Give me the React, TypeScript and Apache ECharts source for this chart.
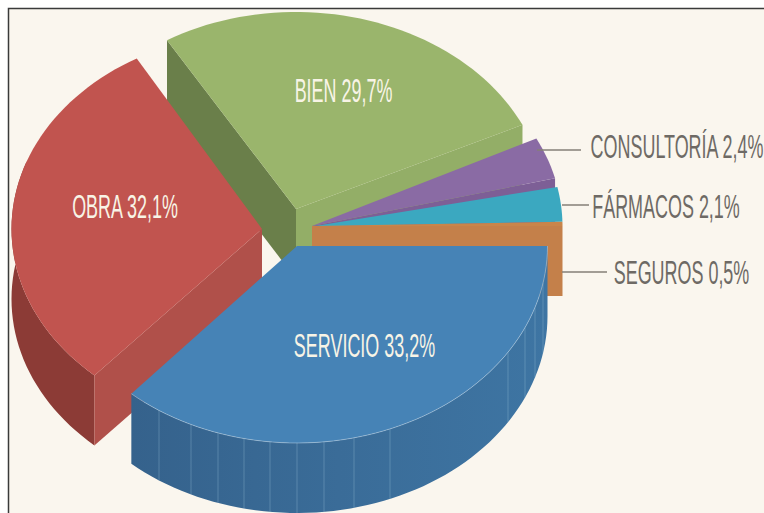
import React, { useEffect, useRef } from "react";
import * as echarts from "echarts";

// Painter's order: back slices first, SERVICIO in front.
const categories = ["BIEN", "OBRA", "CONSULTORÍA", "FÁRMACOS", "SEGUROS", "SERVICIO"];
const shareLabels = ["29,7%", "32,1%", "2,4%", "2,1%", "0,5%", "33,2%"];
const shareValues = [29.7, 32.1, 2.4, 2.1, 0.5, 33.2];
// The reference does not draw its slices in proportion to the printed shares:
// these are the sweeps (degrees, clockwise from 3 o'clock).
const drawnStart = [239, 132, 333.6, 348.4, 358.8, 0];
const drawnEnd = [334.7, 240, 346, 358.6, 360, 131.4];

const topColors = ["#9AB56C", "#C1544F", "#8A6BA4", "#3BA8C0", "#C9854A", "#4683B6"];
const startWallColors = ["#6A7F4A", "", "", "", "", ""];
const endWallColors = ["#93AE67", "#B0504A", "#7D5F96", "", "#C4804A", ""];
const apexX = [296, 262, 312, 312, 312, 297];
const apexY = [209, 229, 226, 226.5, 226, 246];
const labelX = [343.5, 125, 677, 666, 681.5, 364.5];
const labelY = [91, 207, 147, 207, 273, 346];
const labelFill = ["#F8F4E6", "#F8F4E6", "#6E6A65", "#6E6A65", "#6E6A65", "#F8F4E6"];
const leaderFrom = [null, null, [537, 150], [562, 205], [562, 272], null];
const leaderTo = [null, null, [581, 150], [589, 205], [607, 272], null];
const serviceWallRibX = [159, 191, 218, 244, 270, 297, 324, 354, 390, 508, 525, 535, 543];

const RX = 250.5;
const RY = 197;
const DEPTH = 70;

function rim(cx: number, cy: number, a0: number, a1: number, dy = 0) {
  const pts: number[][] = [];
  const n = Math.max(2, Math.ceil(Math.abs(a1 - a0) / 2));
  for (let i = 0; i <= n; i++) {
    const a = ((a0 + ((a1 - a0) * i) / n) * Math.PI) / 180;
    pts.push([cx + RX * Math.cos(a), cy + RY * Math.sin(a) + dy]);
  }
  return pts;
}

function extrude(a: number[], b: number[], fill: string) {
  return {
    type: "polygon",
    shape: { points: [a, b, [b[0], b[1] + DEPTH], [a[0], a[1] + DEPTH]] },
    style: { fill },
  };
}

function renderSlice(params: any) {
  const i = params.dataIndex;
  const cx = apexX[i];
  const cy = apexY[i];
  const a0 = drawnStart[i];
  const a1 = drawnEnd[i];
  const arc = rim(cx, cy, a0, a1);
  const children: any[] = [];
  const first = arc[0];
  const last = arc[arc.length - 1];

  if (categories[i] === "OBRA") {
    // outer wall seen on the left-front of the slice
    const top = rim(cx, cy, a0, 200);
    const bottom = rim(cx, cy, 200, a0, DEPTH);
    children.push({ type: "polygon", shape: { points: [...top, ...bottom] }, style: { fill: "#8C3B36" } });
    children.push(extrude([cx, cy], first, endWallColors[i]));
  } else if (categories[i] === "SERVICIO") {
    const top = rim(cx, cy, a0, a1);
    const bottom = rim(cx, cy, a1, a0, DEPTH);
    children.push({
      type: "polygon",
      shape: { points: [...top, ...bottom] },
      style: {
        fill: new echarts.graphic.LinearGradient(0, 0, 1, 0, [
          { offset: 0, color: "#35628C" },
          { offset: 0.5, color: "#3A6C98" },
          { offset: 1, color: "#3E75A3" },
        ]),
      },
    });
    serviceWallRibX.forEach((x) => {
      const a = Math.acos((x - cx) / RX);
      const y = cy + RY * Math.sin(a);
      children.push({
        type: "line",
        shape: { x1: x, y1: y, x2: x, y2: y + DEPTH },
        style: { stroke: "rgba(150,188,214,0.35)", lineWidth: 1 },
      });
    });
  } else {
    if (startWallColors[i]) children.push(extrude([cx, cy], first, startWallColors[i]));
    if (endWallColors[i]) children.push(extrude([cx, cy], last, endWallColors[i]));
  }

  children.push({
    type: "polygon",
    shape: { points: [[cx, cy], ...arc] },
    style: { fill: topColors[i] },
  });

  if (categories[i] === "SERVICIO") {
    children.push({
      type: "polyline",
      shape: { points: arc },
      style: { fill: "none", stroke: "rgba(185,210,230,0.5)", lineWidth: 1 },
    });
  }

  const from = leaderFrom[i];
  const to = leaderTo[i];
  if (from && to) {
    children.push({
      type: "line",
      shape: { x1: from[0], y1: from[1], x2: to[0], y2: to[1] },
      style: { stroke: "#857F77", lineWidth: 1.5 },
    });
  }

  children.push({
    type: "text",
    x: labelX[i],
    y: labelY[i],
    scaleX: 0.544,
    style: {
      text: `${categories[i]} ${shareLabels[i]}`,
      x: 0,
      y: 0,
      align: "center",
      verticalAlign: "middle",
      fill: labelFill[i],
      font: '33px "Liberation Sans", Arial, sans-serif',
    },
  });

  return { type: "group", children };
}

export default function App() {
  const ref = useRef<HTMLDivElement>(null);
  useEffect(() => {
    document.body.style.margin = "0";
    const chart = echarts.init(ref.current!, undefined, { renderer: "svg" });
    chart.setOption({
      animation: false,
      backgroundColor: "#FFFFFF",
      graphic: [
        {
          type: "rect",
          shape: { x: 8.5, y: 8.5, width: 780, height: 530 },
          style: { fill: "#FAF6EE", stroke: "#3A3A3A", lineWidth: 1.5 },
          silent: true,
        },
      ],
      series: [
        {
          type: "custom",
          coordinateSystem: "none",
          silent: true,
          clip: false,
          data: shareValues,
          renderItem: renderSlice,
        },
      ],
    });
    return () => chart.dispose();
  }, []);
  return <div ref={ref} style={{ position: "fixed", left: 0, top: 0, width: 764, height: 513 }} />;
}
